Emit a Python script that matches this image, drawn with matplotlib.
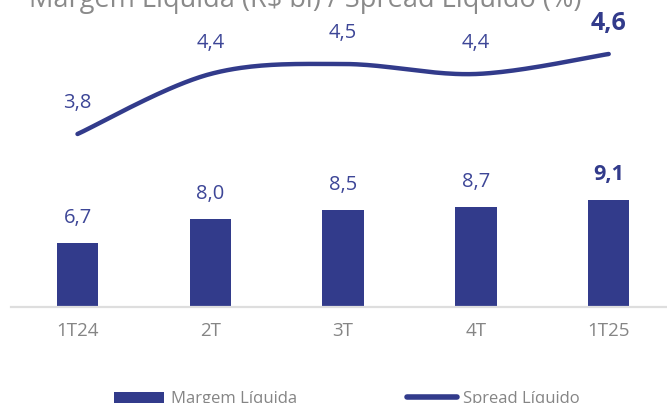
import numpy as np
import matplotlib
matplotlib.use("Agg")
import matplotlib.pyplot as plt
from matplotlib.patches import Patch
from matplotlib.lines import Line2D

categories = ["1T24", "2T", "3T", "4T", "1T25"]
margem = [6.7, 8.0, 8.5, 8.7, 9.1]
spread = [3.8, 4.4, 4.5, 4.4, 4.6]
margem_labels = ["6,7", "8,0", "8,5", "8,7", "9,1"]
spread_labels = ["3,8", "4,4", "4,5", "4,4", "4,6"]

plt.rcParams['font.family'] = ['Open Sans', 'DejaVu Sans']

BAR = '#323B8B'
LBL = '#3D4697'
GRAY = '#858585'

W, H = 667, 403
fig = plt.figure(figsize=(W / 100, H / 100), dpi=100)

ax = fig.add_axes([11 / W, 1 - 307 / H, 656 / W, 307 / H])
ax.set_xlim(-0.5008, 4.439)
ax.set_ylim(3.144, 20.18)
x = np.arange(len(categories))
ax.bar(x, margem, width=0.313, bottom=0, color=BAR, zorder=2)
for side in ['top', 'right', 'left']:
    ax.spines[side].set_visible(False)
ax.spines['bottom'].set_color('#dedede')
ax.spines['bottom'].set_linewidth(1.6)
ax.set_yticks([])
ax.set_xticks(x)
ax.set_xticklabels(categories, fontsize=13.5, color=GRAY)
ax.tick_params(axis='x', length=0, pad=11)
ax.patch.set_alpha(0)

for i, (v, t) in enumerate(zip(margem, margem_labels)):
    last = i == len(margem) - 1
    ax.annotate(t, (i, v), xytext=(0, 18), textcoords='offset points',
                ha='center', va='center', fontsize=15.5 if last else 14.5,
                fontweight='bold' if last else 'normal',
                color=BAR if last else LBL)

ax2 = ax.twinx()
ax2.set_ylim(2.07, 5.14)
ax2.set_yticks([])
for side in ['top', 'right', 'left', 'bottom']:
    ax2.spines[side].set_visible(False)

# Catmull-Rom smoothing of the line (like spreadsheet smoothed lines)
P = np.column_stack([x, spread]).astype(float)
Pext = np.vstack([P[0], P, P[-1]])
xs, ys = [], []
for k in range(1, len(Pext) - 2):
    p0, p1, p2, p3 = Pext[k - 1], Pext[k], Pext[k + 1], Pext[k + 2]
    t = np.linspace(0, 1, 40)[:, None]
    c = 0.5 * ((2 * p1) + (-p0 + p2) * t + (2 * p0 - 5 * p1 + 4 * p2 - p3) * t ** 2
               + (-p0 + 3 * p1 - 3 * p2 + p3) * t ** 3)
    xs.extend(c[:, 0]); ys.extend(c[:, 1])
ax2.plot(xs, ys, color=BAR, lw=3.2, solid_capstyle='round', zorder=3)

for i, (v, t) in enumerate(zip(spread, spread_labels)):
    last = i == len(spread) - 1
    ax2.annotate(t, (i, v), xytext=(0, 22), textcoords='offset points',
                 ha='center', va='center', fontsize=18 if last else 14.5,
                 fontweight='bold' if last else 'normal',
                 color=BAR if last else LBL)

fig.text(305.5 / W, 1 - 7 / H, "Margem Líquida (R$ bi) / Spread Líquido (%)",
         ha='center', va='baseline', fontsize=19.5, color='#8a8a8a')

handles = [Patch(facecolor=BAR, edgecolor='none', label='Margem Líquida'),
           Line2D([0], [0], color=BAR, lw=4, solid_capstyle='round', label='Spread Líquido')]
fig.legend(handles=handles, loc='center', bbox_to_anchor=(347 / W, 1 - 399 / H),
           ncol=2, frameon=False, fontsize=12, labelcolor=GRAY,
           handlelength=3.0, handleheight=0.65, handletextpad=0.4, columnspacing=6.6)

fig.savefig("out.png", dpi=100)
